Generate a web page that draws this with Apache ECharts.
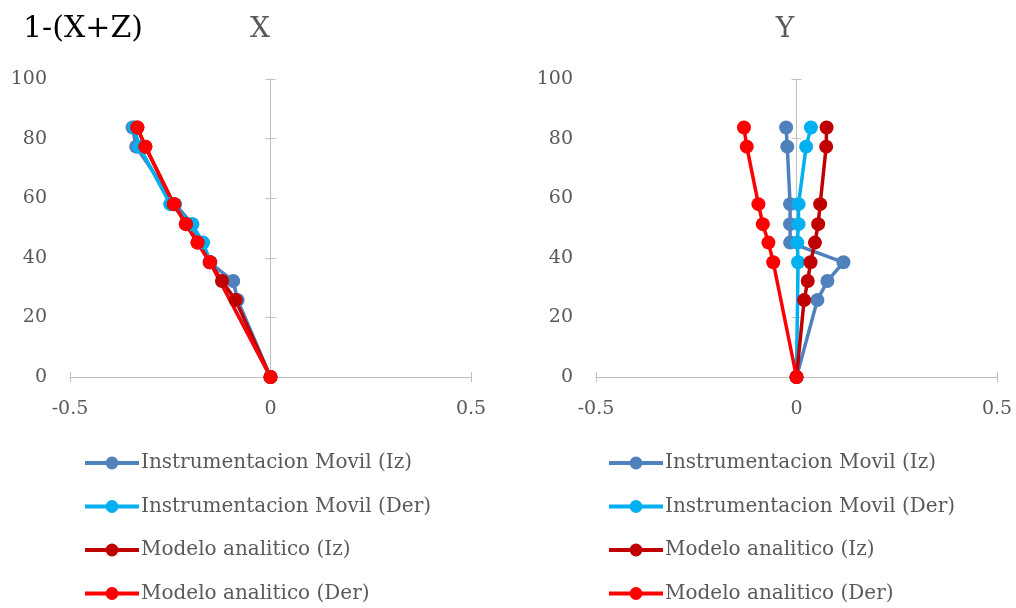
<!DOCTYPE html>
<html>
<head>
<meta charset="utf-8">
<script src="https://cdn.jsdelivr.net/npm/echarts@6/dist/echarts.min.js"></script>
<style>html,body{margin:0;padding:0;background:#fff}#c{width:1016px;height:608px}</style>
</head>
<body>
<div id="c"></div>
<script>
const seriesNames = ['Instrumentacion Movil (Iz)', 'Instrumentacion Movil (Der)', 'Modelo analitico (Iz)', 'Modelo analitico (Der)'];
const heightsIz = [0, 25.8, 32.2, 38.5, 45.1, 51.3, 58.0, 77.3, 83.7];
const heightsDer = [0, 38.5, 45.1, 51.3, 58.0, 77.3, 83.7];
// Chart X
const xInstIz = [0, -0.082, -0.093, -0.152, -0.178, -0.195, -0.238, -0.335, -0.344];
const xInstDer = [0, -0.150, -0.168, -0.196, -0.250, -0.327, -0.340];
const xModIz = [0, -0.087, -0.121, -0.151, -0.182, -0.211, -0.241, -0.312, -0.332];
const xModDer = [0, -0.151, -0.182, -0.211, -0.241, -0.312, -0.332];
// Chart Y
const yInstIz = [0, 0.052, 0.077, 0.117, -0.016, -0.016, -0.016, -0.023, -0.026];
const yInstDer = [0, 0.004, 0.002, 0.005, 0.005, 0.024, 0.036];
const yModIz = [0, 0.019, 0.028, 0.035, 0.046, 0.054, 0.059, 0.074, 0.075];
const yModDer = [0, -0.058, -0.070, -0.084, -0.095, -0.124, -0.131];
const xTicks = [-0.5, 0, 0.5];
const yTicks = [0, 20, 40, 60, 80, 100];

const colors = ['#4F81BD', '#00B0F0', '#C00000', '#FF0000'];
const SERIF = '"DejaVu Serif", serif';
const GRAY = '#595959';
const AXIS = '#BFBFBF';

function pairs(xs, hs) { return xs.map((v, i) => [v, hs[i]]); }

const grids = [
  { left: 70, width: 401, top: 79, height: 298 },
  { left: 596, width: 401, top: 79, height: 298 }
];
const xAxis = [], yAxis = [];
grids.forEach((g, gi) => {
  xAxis.push({
    gridIndex: gi, type: 'value', min: -0.5, max: 0.5, interval: 0.5,
    axisLine: { show: true, onZero: false, lineStyle: { color: AXIS, width: 1 } },
    axisTick: { show: true, length: 5, lineStyle: { color: AXIS } },
    axisLabel: { show: true, margin: 23, color: GRAY, fontFamily: SERIF, fontSize: 19, formatter: v => String(v) },
    splitLine: { show: false }
  });
  xAxis.push({
    gridIndex: gi, type: 'value', min: -0.5, max: 0.5, interval: 0.5, position: 'bottom',
    axisLine: { show: false, onZero: false },
    axisTick: { show: true, inside: true, length: 5, lineStyle: { color: AXIS } },
    axisLabel: { show: false }, splitLine: { show: false }
  });
  yAxis.push({
    gridIndex: gi, type: 'value', min: 0, max: 100, interval: 20, position: 'left',
    axisLine: { show: false, onZero: false }, axisTick: { show: false },
    axisLabel: { show: true, margin: 23, color: GRAY, fontFamily: SERIF, fontSize: 19 },
    splitLine: { show: false }
  });
  yAxis.push({
    gridIndex: gi, type: 'value', min: 0, max: 100, interval: 20,
    axisLine: { show: true, onZero: true, onZeroAxisIndex: gi * 2, lineStyle: { color: AXIS, width: 1 } },
    axisTick: { show: true, length: 5, lineStyle: { color: AXIS } },
    axisLabel: { show: false }, splitLine: { show: false }
  });
  yAxis.push({
    gridIndex: gi, type: 'value', min: 0, max: 100, interval: 20,
    axisLine: { show: false, onZero: true, onZeroAxisIndex: gi * 2 },
    axisTick: { show: true, inside: true, length: 5, lineStyle: { color: AXIS } },
    axisLabel: { show: false }, splitLine: { show: false }
  });
});

const dataSets = [
  [pairs(xInstIz, heightsIz), pairs(xInstDer, heightsDer), pairs(xModIz, heightsIz), pairs(xModDer, heightsDer)],
  [pairs(yInstIz, heightsIz), pairs(yInstDer, heightsDer), pairs(yModIz, heightsIz), pairs(yModDer, heightsDer)]
];
const series = [];
dataSets.forEach((set, gi) => {
  set.forEach((d, si) => {
    series.push({
      type: 'line', name: seriesNames[si], data: d,
      xAxisIndex: gi * 2, yAxisIndex: gi * 3,
      symbol: 'circle', symbolSize: 14, clip: false,
      lineStyle: { color: colors[si], width: 3.5 },
      itemStyle: { color: colors[si] },
      emphasis: { disabled: true },
      animation: false
    });
  });
});

const legends = [];
[78, 602].forEach(lx => {
  seriesNames.forEach((nm, i) => {
    legends.push({
      orient: 'horizontal', left: lx, top: 448 + i * 43.5,
      itemWidth: 54, itemHeight: 16, itemGap: 0,
      lineStyle: { width: 4 },
      textStyle: { color: GRAY, fontFamily: SERIF, fontSize: 20, padding: [0, 0, 0, -3] },
      data: [nm], selectedMode: false
    });
  });
});

const option = {
  backgroundColor: '#fff',
  animation: false,
  color: colors,
  title: [
    { text: '1-(X+Z)', left: 18, top: 9, textStyle: { color: '#000', fontFamily: SERIF, fontSize: 30, fontWeight: 'normal' } },
    { text: 'X', left: 255, top: 11, textAlign: 'center', textStyle: { color: GRAY, fontFamily: SERIF, fontSize: 28, fontWeight: 'normal' } },
    { text: 'Y', left: 780, top: 11, textAlign: 'center', textStyle: { color: GRAY, fontFamily: SERIF, fontSize: 28, fontWeight: 'normal' } }
  ],
  grid: grids,
  xAxis: xAxis,
  yAxis: yAxis,
  legend: legends,
  series: series
};
const chart = echarts.init(document.getElementById('c'), null, { renderer: 'canvas' });
chart.setOption(option);
</script>
</body>
</html>
